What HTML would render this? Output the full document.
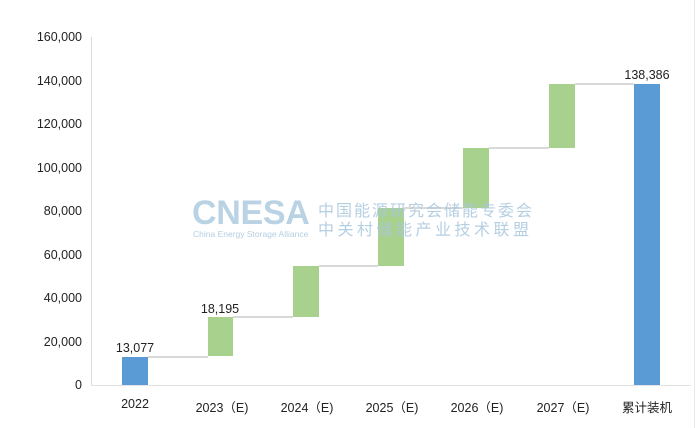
<!DOCTYPE html>
<html><head><meta charset="utf-8"><style>
body{margin:0;background:#fff;width:700px;height:428px;overflow:hidden;position:relative;font-family:"Liberation Sans","Noto Sans CJK SC",sans-serif;color:#222}
.a{position:absolute}
.yl{position:absolute;right:618px;font-size:12.5px;text-align:right;line-height:14px}
.xl{position:absolute;top:397px;font-size:12.5px;width:90px;text-align:center;margin-left:-45px}
.g{position:absolute;background:#a9d18e}
.b{position:absolute;background:#5b9bd5}
.c{position:absolute;height:2px;background:#d9d9d9}
.v{position:absolute;font-size:12.5px;width:80px;text-align:center;margin-left:-40px}
</style></head><body>
<div class="a" style="left:91px;top:37px;width:1px;height:348px;background:#d9d9d9"></div>
<div class="a" style="left:91px;top:385px;width:600px;height:1px;background:#e3e3e3"></div>
<div class="a" style="left:694px;top:0;width:1px;height:428px;background:#e8e8e8"></div>

<div class="yl" style="top:30px">160,000</div>
<div class="yl" style="top:74px">140,000</div>
<div class="yl" style="top:117px">120,000</div>
<div class="yl" style="top:161px">100,000</div>
<div class="yl" style="top:204px">80,000</div>
<div class="yl" style="top:248px">60,000</div>
<div class="yl" style="top:291px">40,000</div>
<div class="yl" style="top:335px">20,000</div>
<div class="yl" style="top:378px">0</div>

<div class="c" style="left:148px;width:60px;top:356px"></div>
<div class="c" style="left:233px;width:60px;top:316px"></div>
<div class="c" style="left:319px;width:59px;top:265px"></div>
<div class="c" style="left:404px;width:59px;top:207px"></div>
<div class="c" style="left:489px;width:60px;top:147px"></div>
<div class="c" style="left:575px;width:59px;top:83px"></div>

<div class="b" style="left:122px;width:26px;top:357px;height:28px"></div>
<div class="g" style="left:208px;width:25px;top:317px;height:39px"></div>
<div class="g" style="left:293px;width:26px;top:266px;height:51px"></div>
<div class="g" style="left:378px;width:26px;top:208px;height:58px"></div>
<div class="g" style="left:463px;width:26px;top:148px;height:60px"></div>
<div class="g" style="left:549px;width:26px;top:84px;height:64px"></div>
<div class="b" style="left:634px;width:26px;top:84px;height:301px"></div>

<div class="v" style="left:135px;top:341px">13,077</div>
<div class="v" style="left:220px;top:302px">18,195</div>
<div class="v" style="left:647px;top:68px">138,386</div>

<div class="xl" style="left:135px">2022</div>
<div class="xl" style="left:222px">2023（E)</div>
<div class="xl" style="left:307px">2024（E)</div>
<div class="xl" style="left:392px">2025（E)</div>
<div class="xl" style="left:477px">2026（E)</div>
<div class="xl" style="left:563px">2027（E)</div>
<div class="xl" style="left:647px">累计装机</div>

<div class="a" style="left:192px;top:195px;font-size:34px;font-weight:bold;color:#b3cfe2;opacity:.9;letter-spacing:-0.3px;line-height:36px">CNESA</div>
<div class="a" style="left:193px;top:230px;font-size:8.5px;color:#b3cfe2;line-height:9px">China Energy Storage Alliance</div>
<div class="a" style="left:318px;top:202px;font-size:16px;color:#a9c7dd;opacity:.85;line-height:19px;letter-spacing:2px">中国能源研究会储能专委会</div>
<div class="a" style="left:318px;top:221px;font-size:16px;color:#a9c7dd;opacity:.85;line-height:19px;letter-spacing:3.5px">中关村储能产业技术联盟</div>
</body></html>
